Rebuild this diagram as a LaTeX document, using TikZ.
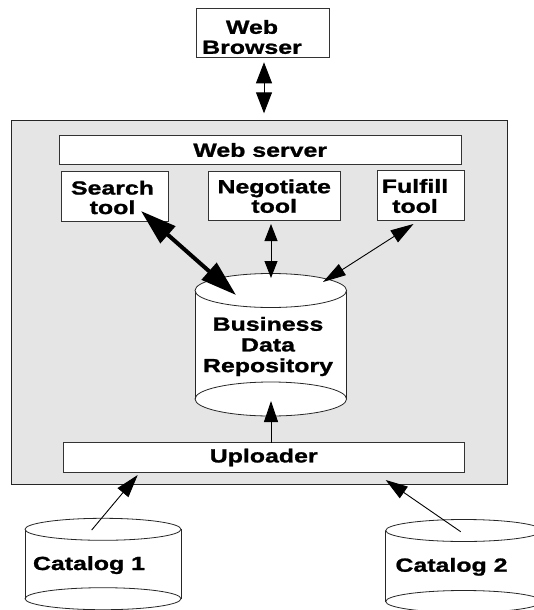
\documentclass[tikz,border=0pt]{standalone}
\usepackage{fontspec}
\usetikzlibrary{arrows.meta}
\newfontfamily\diafont{Liberation Sans}[FakeStretch=1.31, BoldFeatures={FakeBold=1.2}]

% a database drum: centre x, top-ellipse y, bottom-ellipse y, x radius, y radius
\newcommand{\drum}[5]{%
  \fill[white] (#1-#4,#2) rectangle (#1+#4,#3);
  \draw[drumline,fill=white] (#1,#3) ellipse [x radius=#4pt, y radius=#5pt];
  \draw[drumline] (#1-#4,#2) -- (#1-#4,#3) (#1+#4,#2) -- (#1+#4,#3);
  \draw[drumline,fill=white] (#1,#2) ellipse [x radius=#4pt, y radius=#5pt];
}

\tikzset{
  txt/.style={font=\diafont\bfseries\fontsize{19}{19.5}\selectfont, align=center, inner sep=0pt},
  box/.style={draw=black!80, line width=0.9pt, fill=white, inner sep=0pt, txt},
  server/.style={draw=black!85, line width=0.9pt, fill=gray!20, inner sep=0pt},
  drumline/.style={draw=black!85, line width=0.8pt},
  conn/.style={draw=black, line width=0.9pt},
}

\begin{document}
\begin{tikzpicture}[x=1pt, y=-1pt]
\useasboundingbox (0,0) rectangle (533,610);

% outer server frame
\node[server, minimum width=495.3pt, minimum height=363.7pt] (server) at (259.35,302.15) {};

% browser
\node[box, minimum width=132.6pt, minimum height=49pt] (browser) at (263,32.8) {};
\node[txt] (browsertxt) at (252,37) {Web\\[0.5pt]Browser};

% web server bar and tools
\node[box, minimum width=401.7pt, minimum height=29.4pt] (webserver) at (260.2,150) {Web server};
\node[box, minimum width=107.3pt, minimum height=50pt] (search) at (114.7,196.7) {};
\node[txt] (searchtxt) at (112.5,197.5) {Search\\tool};
\node[box, minimum width=131.7pt, minimum height=49pt] (negotiate) at (274.2,196.2) {Negotiate\\tool};
\node[box, minimum width=87.3pt, minimum height=49.3pt] (fulfill) at (420.7,195.4) {};
\node[txt] (fulfilltxt) at (415,196) {Fulfill\\[0.5pt]tool};

% repository
\drum{270.8}{290.5}{399}{75.8}{17}
\node[txt, font=\diafont\bfseries\fontsize{19}{20.7}\selectfont] (repo) at (268,346.5) {Business\\Data\\Repository};

% uploader
\node[box, minimum width=400.7pt, minimum height=29.6pt] (uploader) at (263.7,457.5) {Uploader};

% catalogs
\drum{103}{529.3}{598.7}{78}{11}
\node[txt, anchor=base] (cat1) at (89,570) {Catalog 1};
\drum{463.7}{530.5}{601.5}{78}{11}
\node[txt, anchor=base] (cat2) at (451.5,571.7) {Catalog 2};

% connector ends
\coordinate (brTop) at (264,62.3);
\coordinate (brBot) at (264,113.3);
\coordinate (srTop) at (141,211);
\coordinate (srBot) at (236,295);
\coordinate (ngTop) at (271,224);
\coordinate (ngBot) at (271,278);
\coordinate (ffTop) at (413.5,224);
\coordinate (ffBot) at (323,282);
\coordinate (upTail) at (271,442.7);
\coordinate (upTip) at (271,401);
\coordinate (c1Tail) at (91.7,530);
\coordinate (c1Tip) at (137.7,475);
\coordinate (c2Tail) at (460.7,531.7);
\coordinate (c2Tip) at (385.7,480);

% connectors
\draw[conn, {Triangle[length=21pt,width=16pt]}-{Triangle[length=21pt,width=16pt]}] (brTop) -- (brBot);
\draw[conn, line width=4pt, {Triangle[length=36pt,width=22pt]}-{Triangle[length=36pt,width=22pt]}] (srTop) -- (srBot);
\draw[conn, {Triangle[length=17pt,width=13pt]}-{Triangle[length=17pt,width=13pt]}] (ngTop) -- (ngBot);
\draw[conn, {Triangle[length=23pt,width=13pt]}-{Triangle[length=23pt,width=14pt]}] (ffBot) -- (ffTop);
\draw[conn, -{Triangle[length=21pt,width=14pt]}] (upTail) -- (upTip);
\draw[conn, -{Triangle[length=23pt,width=14pt]}] (c1Tail) -- (c1Tip);
\draw[conn, -{Triangle[length=22pt,width=14pt]}] (c2Tail) -- (c2Tip);
\end{tikzpicture}
\end{document}
